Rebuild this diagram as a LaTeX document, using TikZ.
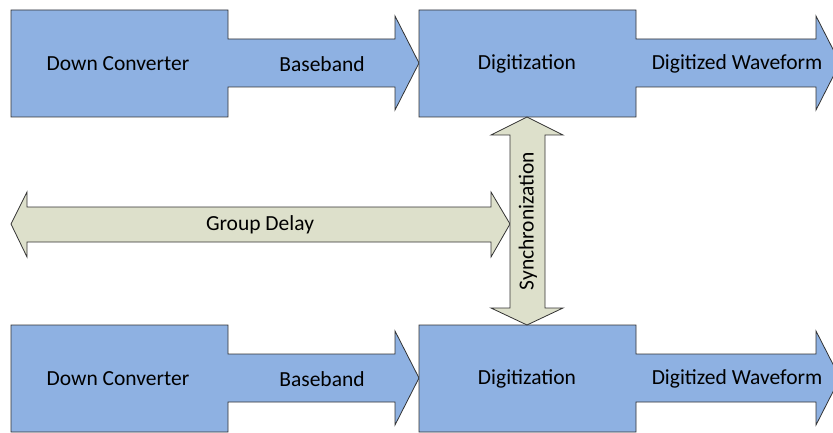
\documentclass[tikz,border=0pt]{standalone}
\usepackage{fontspec}
\setmainfont{Carlito}
\usepackage{tikz}

\definecolor{stageblue}{HTML}{8EB1E2}
\definecolor{syncbeige}{HTML}{DDE0CB}

\begin{document}
\begin{tikzpicture}[x=1pt,y=-1pt,
  stage/.style={fill=stageblue,draw=black!80,line width=0.8pt,line join=miter},
  link/.style={fill=syncbeige,draw=black!80,line width=0.8pt,line join=miter},
  lbl/.style={font=\fontsize{21.5}{26}\selectfont,inner sep=0pt}]
\useasboundingbox (0,0) rectangle (833,433);
\clip (0,0) rectangle (833,433);
\foreach \r/\dy in {a/0,b/315} {
  \begin{scope}[yshift=-\dy pt]
  \draw[stage] (11,10) -- (228,10) -- (228,39) -- (395,39) -- (395,16) -- (419,63)
    -- (395,110) -- (395,87) -- (228,87) -- (228,117) -- (11,117) -- cycle;
  \draw[stage] (419,10) -- (636,10) -- (636,39) -- (816,39) -- (816,16) -- (840,63)
    -- (816,110) -- (816,87) -- (636,87) -- (636,117) -- (419,117) -- cycle;
  \node[lbl] (conv\r) at (118,64) {Down Converter};
  \node[lbl] (base\r) at (322,64) {Baseband};
  \node[lbl] (digi\r) at (527,64) {Digitization};
  \node[lbl] (wave\r) at (737,64) {Digitized Waveform};
  \end{scope}
}
\draw[link] (11,224) -- (27,192) -- (27,207) -- (491,207) -- (491,192) -- (510,224)
  -- (491,257) -- (491,242) -- (27,242) -- (27,257) -- cycle;
\node[lbl] (delay) at (260,225) {Group Delay};
\draw[link] (527,117) -- (563,135) -- (545,135) -- (545,308) -- (563,308) -- (527,325)
  -- (491,308) -- (510,308) -- (510,135) -- (491,135) -- cycle;
\node[lbl,rotate=90] (sync) at (528,221) {Synchronization};
\end{tikzpicture}
\end{document}
